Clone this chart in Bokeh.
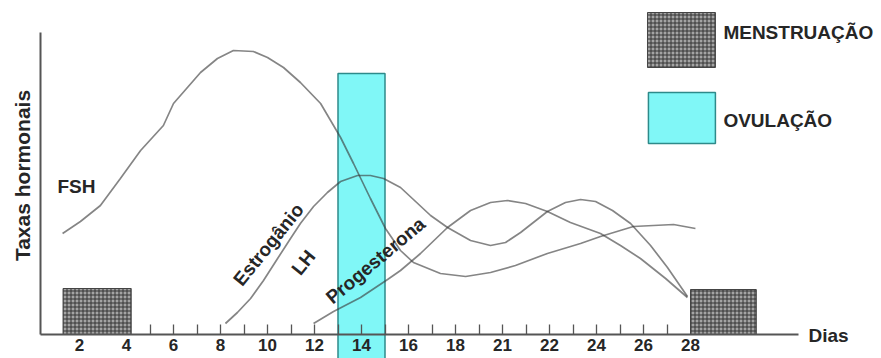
import math
from bokeh.plotting import figure
from bokeh.models import FixedTicker, LinearAxis, Range1d
from bokeh.embed import file_html
from bokeh.resources import INLINE
from bokeh.core.properties import value

# ---------------- data (days, hormone level) ----------------
fsh_days = [1.28, 2.04, 2.89, 3.74, 4.60, 5.57, 6.00, 7.15, 7.87, 8.55, 9.40, 10.0, 10.68, 11.40,
            12.26, 13.11, 13.66, 14.38, 15.02, 15.66, 16.21, 17.36, 18.43, 19.49, 20.55, 21.91,
            23.32, 24.17, 25.57, 27.28, 28.21]
fsh_level = [101, 113, 129, 156, 184, 209, 231, 262, 276, 284, 283, 277, 267, 252,
             231, 197, 171, 136, 106, 84, 72, 61, 58, 62, 69, 81,
             91, 98, 108, 110, 106]

estro_days = [8.21, 8.72, 9.28, 9.83, 10.43, 10.98, 11.40, 11.96, 12.55, 13.11, 13.83, 14.38,
              14.94, 15.66, 16.21, 16.94, 17.66, 18.64, 19.49, 20.13, 20.77, 21.91, 22.68,
              23.32, 23.96, 24.68, 25.45, 26.30, 27.02, 27.87]
estro_level = [11, 22, 36, 54, 76, 96, 111, 128, 142, 153, 159, 159,
               156, 147, 135, 119, 107, 94, 89, 92, 102, 123, 132,
               135, 133, 124, 111, 89, 67, 38]

prog_days = [11.96, 12.81, 13.96, 15.11, 15.66, 16.51, 17.66, 18.64, 19.49, 20.21, 20.98,
             21.91, 22.89, 24.17, 25.02, 25.87, 26.94, 27.87]
prog_level = [11, 23, 37, 55, 64, 81, 107, 124, 132, 134, 131,
              123, 112, 101, 89, 76, 56, 37]

menstruation_start = [1.3, 28.0]
menstruation_end = [4.2, 30.8]
menstruation_level = [46, 45]

ovulation_start = [13.0]
ovulation_end = [15.0]
ovulation_level = [261]

tick_days = [2, 4, 6, 8, 10, 12, 14, 16, 18, 20, 22, 24, 26, 28]
tick_labels = ["2", "4", "6", "8", "10", "12", "14", "16", "18", "21", "22", "24", "26", "28"]
minor_days = list(range(5, 28))

curve_names = ["FSH", "Estrogânio", "LH", "Progesterona"]
legend_names = ["MENSTRUAÇÃO", "OVULAÇÃO"]
y_title = "Taxas hormonais"
x_title = "Dias"

# ---------------- layout ----------------
W, H = 881, 358
PX_PER_DAY = 23.5
X0 = -32 / PX_PER_DAY
X1 = X0 + W / PX_PER_DAY
Y_AXIS_DAY = 0.34
FONT = value("Liberation Sans")
TXT = "#262626"
CURVE = "#3a3a3a"
CYAN = "#80F7F7"
TEAL = "#2E8A8A"

p = figure(width=W, height=H, x_range=Range1d(X0, X1), y_range=Range1d(-24, 334),
           output_backend="svg", toolbar_location=None, min_border=0,
           x_axis_location=None, y_axis_location=None, title=None)
p.outline_line_color = None
p.background_fill_color = "white"
p.grid.visible = False
p.xgrid.visible = False
p.ygrid.visible = False

# ovulation bar (drawn first, curves over it with transparency)
p.quad(left=ovulation_start, right=ovulation_end, bottom=-40, top=ovulation_level,
       fill_color=CYAN, line_color=TEAL, line_width=1.5)

# menstruation boxes
hatch = dict(fill_color="#a4a4a4", hatch_pattern="+", hatch_scale=4, hatch_color="#333333",
             hatch_weight=1, line_color="#444444", line_width=1)
p.quad(left=menstruation_start, right=menstruation_end, bottom=0, top=menstruation_level, **hatch)

for xs, ys in [(fsh_days, fsh_level), (estro_days, estro_level), (prog_days, prog_level)]:
    p.line(xs, ys, line_color=CURVE, line_alpha=0.62, line_width=1.7)

# curve labels
lab_x = [1.87, 10.04, 11.53, 14.6]
lab_y = [148, 90, 72, 74]
lab_a = [0, math.radians(51), math.radians(51), math.radians(40)]
p.text(x=lab_x, y=lab_y, text=curve_names, angle=lab_a, text_font=FONT, text_font_style="bold",
       text_font_size="19px", text_align="center", text_baseline="middle", text_color=TXT)

# legend
p.quad(left=[26.17], right=[29.06], bottom=[267], top=[322], **hatch)
p.quad(left=[26.21], right=[29.06], bottom=[191], top=[242], fill_color=CYAN,
       line_color=TEAL, line_width=1.5)
p.text(x=[29.4, 29.4], y=[302, 214], text=legend_names, text_font=FONT, text_font_style="bold",
       text_font_size="19px", text_align="left", text_baseline="middle", text_color=TXT)

# axis titles
p.text(x=[33.02], y=[-1], text=[x_title], text_font=FONT, text_font_style="bold",
       text_font_size="19px", text_align="left", text_baseline="middle", text_color=TXT)
p.text(x=[-0.43], y=[159], text=[y_title], angle=math.pi / 2, text_font=FONT,
       text_font_style="bold", text_font_size="21px", text_align="center",
       text_baseline="middle", text_color=TXT)

# axes
xaxis = LinearAxis(fixed_location=0, bounds=(Y_AXIS_DAY, 32.6),
                   ticker=FixedTicker(ticks=tick_days, minor_ticks=minor_days))
xaxis.major_label_overrides = {d: s for d, s in zip(tick_days, tick_labels)}
xaxis.axis_line_color = "#555555"
xaxis.axis_line_width = 2
xaxis.major_tick_in = 0
xaxis.major_tick_out = 0
xaxis.minor_tick_in = 10
xaxis.minor_tick_out = 0
xaxis.minor_tick_line_color = "#555555"
xaxis.minor_tick_line_width = 1.3
xaxis.major_label_standoff = 4
xaxis.major_label_text_font = "Liberation Sans"
xaxis.major_label_text_font_style = "bold"
xaxis.major_label_text_font_size = "17px"
xaxis.major_label_text_color = TXT
p.add_layout(xaxis, "below")

yaxis = LinearAxis(fixed_location=Y_AXIS_DAY, bounds=(0, 302), ticker=FixedTicker(ticks=[]))
yaxis.axis_line_color = "#555555"
yaxis.axis_line_width = 2
yaxis.major_tick_in = 0
yaxis.major_tick_out = 0
yaxis.minor_tick_in = 0
yaxis.minor_tick_out = 0
yaxis.major_label_standoff = 0
p.add_layout(yaxis, "left")

open("out.html", "w").write(file_html(p, INLINE))
